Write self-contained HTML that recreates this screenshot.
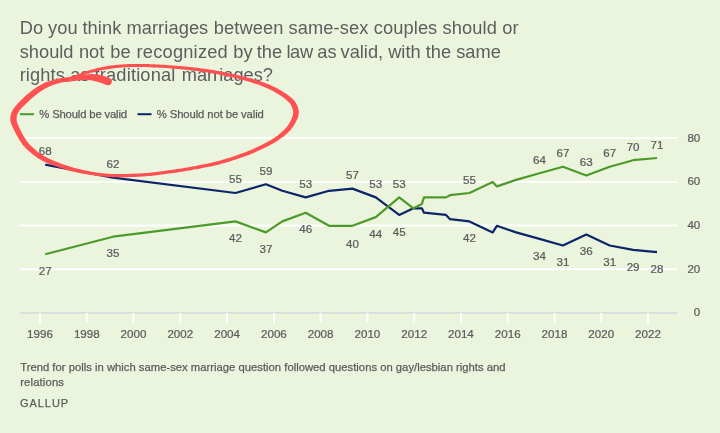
<!DOCTYPE html>
<html><head><meta charset="utf-8"><title>Gallup same-sex marriage trend</title><style>
html,body{margin:0;padding:0}
body{width:720px;height:433px;background:#ebf4dd;overflow:hidden;position:relative}
svg{position:absolute;left:0;top:0;will-change:transform;transform:translateZ(0)}
svg text{font-family:"Liberation Sans",sans-serif;font-size:11.6px;fill:#5c5c5c;text-anchor:middle;white-space:pre;stroke:#5c5c5c;stroke-width:0.25px}
svg text.t{font-size:18.25px;text-anchor:start;fill:#5e5e5e;stroke:none}
svg text.l{font-size:11.3px;text-anchor:start}
svg text.f{font-size:11.28px;text-anchor:start;letter-spacing:0.015px}
</style></head><body>
<svg width="720" height="433" viewBox="0 0 720 433">
<text class="t" y="34" style="letter-spacing:0.09px"><tspan x="19.8">Do</tspan> <tspan x="48.0">you</tspan> <tspan x="82.4">think</tspan> <tspan x="126.4">marriages</tspan> <tspan x="213.8">between</tspan> <tspan x="288.6">same-sex</tspan> <tspan x="373.8">couples</tspan> <tspan x="442.6">should</tspan> <tspan x="502.3">or</tspan></text>
<text class="t" y="57.5" style="letter-spacing:0.005px"><tspan x="19.7">should</tspan> <tspan x="78.95">not</tspan> <tspan x="110.35">be</tspan> <tspan x="136.5" style="letter-spacing:0.22px">recognized</tspan> <tspan x="233.3">by</tspan> <tspan x="256.7">the</tspan> <tspan x="286.4" style="letter-spacing:-0.35px">law</tspan> <tspan x="317.3">as</tspan> <tspan x="340.5">valid,</tspan> <tspan x="388.2">with</tspan> <tspan x="425.7">the</tspan> <tspan x="456.2">same</tspan></text>
<text class="t" y="80.7" style="letter-spacing:0.11px"><tspan x="19.7">rights</tspan> <tspan x="70.2">as</tspan> <tspan x="94.6" style="letter-spacing:0.16px">traditional</tspan> <tspan x="181.7" style="letter-spacing:0.0px">marriages?</tspan></text>
<text class="l" x="39.3" y="118" style="letter-spacing:-0.17px">% Should be valid</text>
<text class="l" x="156.8" y="118" style="letter-spacing:-0.11px">% Should not be valid</text>
<text class="f" x="20.2" y="371" style="letter-spacing:0.005px">Trend for polls in which same-sex marriage question followed questions on gay/lesbian rights and</text>
<text class="f" x="20.2" y="386" style="letter-spacing:0.15px">relations</text>
<text class="f" x="20" y="407" style="font-size:11px;letter-spacing:0.95px">GALLUP</text>
<g stroke="#ffffff" stroke-width="2"><line x1="20" y1="138.0" x2="677" y2="138.0"/>
<line x1="20" y1="181.9" x2="677" y2="181.9"/>
<line x1="20" y1="225.6" x2="677" y2="225.6"/>
<line x1="20" y1="269.3" x2="677" y2="269.3"/></g>
<line x1="20" y1="313" x2="677" y2="313" stroke="#dcdcdc" stroke-width="2"/>
<g stroke="#ffffff" stroke-width="2"><line x1="40.0" y1="313" x2="40.0" y2="323"/>
<line x1="86.8" y1="313" x2="86.8" y2="323"/>
<line x1="133.5" y1="313" x2="133.5" y2="323"/>
<line x1="180.3" y1="313" x2="180.3" y2="323"/>
<line x1="227.1" y1="313" x2="227.1" y2="323"/>
<line x1="273.9" y1="313" x2="273.9" y2="323"/>
<line x1="320.6" y1="313" x2="320.6" y2="323"/>
<line x1="367.4" y1="313" x2="367.4" y2="323"/>
<line x1="414.2" y1="313" x2="414.2" y2="323"/>
<line x1="460.9" y1="313" x2="460.9" y2="323"/>
<line x1="507.7" y1="313" x2="507.7" y2="323"/>
<line x1="554.5" y1="313" x2="554.5" y2="323"/>
<line x1="601.2" y1="313" x2="601.2" y2="323"/>
<line x1="648.0" y1="313" x2="648.0" y2="323"/></g>
<line x1="20" y1="114.2" x2="34" y2="114.2" stroke="#4d9a2b" stroke-width="2"/>
<line x1="137.5" y1="114.2" x2="151.5" y2="114.2" stroke="#0e2468" stroke-width="2"/>
<polyline points="45.2,164.6 113.0,177.7 235.5,193.0 265.9,184.2 282.3,190.8 305.7,197.4 329.1,190.8 352.4,188.6 375.8,197.4 399.2,214.9 413.4,208.3 421.9,208.3 424.0,212.7 446.0,214.9 450.1,219.2 469.4,221.4 492.7,232.4 496.9,225.8 516.1,232.4 539.5,238.9 562.9,245.5 586.3,234.6 609.7,245.5 633.1,249.9 657.0,252.1" fill="none" stroke="#0e2468" stroke-width="2.2" stroke-linejoin="round"/>
<polyline points="45.2,254.2 113.0,236.7 235.5,221.4 265.9,232.4 282.3,221.4 305.7,212.7 329.1,225.8 352.4,225.8 375.8,217.1 399.2,197.4 413.4,208.3 421.9,203.9 424.0,197.4 446.0,197.4 450.1,195.2 469.4,193.0 492.7,182.1 496.9,186.4 516.1,179.9 539.5,173.3 562.9,166.7 586.3,175.5 609.7,166.7 633.1,160.2 657.0,158.0" fill="none" stroke="#4d9a2b" stroke-width="2.2" stroke-linejoin="round"/>
<g transform="scale(1 0.955)"><text x="45.2" y="162.3">68</text>
<text x="45.2" y="288.0">27</text>
<text x="113.0" y="176.0">62</text>
<text x="113.0" y="269.0">35</text>
<text x="235.5" y="192.0">55</text>
<text x="235.5" y="253.0">42</text>
<text x="265.9" y="182.9">59</text>
<text x="265.9" y="264.5">37</text>
<text x="305.7" y="196.6">53</text>
<text x="305.7" y="243.8">46</text>
<text x="352.4" y="187.4">57</text>
<text x="352.4" y="259.4">40</text>
<text x="375.8" y="196.6">53</text>
<text x="375.8" y="249.5">44</text>
<text x="399.2" y="196.6">53</text>
<text x="399.2" y="247.2">45</text>
<text x="469.4" y="193.1">55</text>
<text x="469.4" y="253.0">42</text>
<text x="539.5" y="171.4">64</text>
<text x="539.5" y="272.1">34</text>
<text x="562.9" y="164.5">67</text>
<text x="562.9" y="278.2">31</text>
<text x="586.3" y="173.7">63</text>
<text x="586.3" y="266.8">36</text>
<text x="609.7" y="164.5">67</text>
<text x="609.7" y="278.2">31</text>
<text x="633.1" y="157.7">70</text>
<text x="633.1" y="283.5">29</text>
<text x="657.0" y="156.4">71</text>
<text x="657.0" y="285.8">28</text>
<text x="40.0" y="353.9">1996</text>
<text x="86.8" y="353.9">1998</text>
<text x="133.5" y="353.9">2000</text>
<text x="180.3" y="353.9">2002</text>
<text x="227.1" y="353.9">2004</text>
<text x="273.9" y="353.9">2006</text>
<text x="320.6" y="353.9">2008</text>
<text x="367.4" y="353.9">2010</text>
<text x="414.2" y="353.9">2012</text>
<text x="460.9" y="353.9">2014</text>
<text x="507.7" y="353.9">2016</text>
<text x="554.5" y="353.9">2018</text>
<text x="601.2" y="353.9">2020</text>
<text x="648.0" y="353.9">2022</text>
<text x="700.3" y="148.2" style="text-anchor:end">80</text>
<text x="700.3" y="194.1" style="text-anchor:end">60</text>
<text x="700.3" y="239.9" style="text-anchor:end">40</text>
<text x="700.3" y="285.7" style="text-anchor:end">20</text>
<text x="700.3" y="331.4" style="text-anchor:end">0</text></g>
<path d="M109.5,78.1 L109.0,77.9 L108.3,77.6 L107.5,77.3 L106.6,76.9 L105.6,76.5 L104.5,76.2 L103.4,75.8 L102.3,75.5 L101.2,75.2 L100.1,75.0 L99.0,74.8 L97.8,74.6 L96.5,74.4 L95.3,74.3 L94.0,74.2 L92.8,74.1 L91.6,74.1 L90.4,74.1 L89.2,74.2 L88.1,74.3 L86.9,74.4 L85.8,74.5 L84.7,74.6 L83.6,74.7 L82.5,74.8 L81.3,75.0 L80.1,75.1 L78.9,75.3 L77.7,75.4 L76.6,75.6 L75.6,75.7 L74.7,75.9 L73.9,76.0 L73.2,76.1 L72.6,76.3 L72.1,76.4 L71.6,76.5 L71.1,76.6 L70.4,76.7 L69.7,76.9 L68.7,77.0 L67.7,77.2 L66.5,77.3 L65.2,77.5 L63.8,77.6 L62.4,77.9 L61.0,78.1 L59.5,78.4 L58.0,78.7 L56.4,79.1 L54.8,79.5 L53.1,79.9 L51.4,80.4 L49.8,80.9 L48.2,81.4 L46.7,82.0 L45.3,82.5 L44.0,83.1 L42.7,83.7 L41.5,84.4 L40.4,85.0 L39.2,85.7 L38.1,86.4 L36.9,87.1 L35.7,87.9 L34.5,88.8 L33.2,89.7 L32.0,90.6 L30.8,91.5 L29.7,92.4 L28.7,93.2 L27.7,94.0 L26.8,94.7 L26.0,95.5 L25.2,96.1 L24.5,96.8 L23.8,97.4 L23.2,98.1 L22.6,98.7 L21.9,99.4 L21.2,100.0 L20.5,100.7 L19.8,101.4 L19.1,102.1 L18.4,102.8 L17.7,103.5 L17.1,104.3 L16.5,105.0 L15.9,105.7 L15.3,106.3 L14.8,107.0 L14.3,107.7 L13.8,108.4 L13.4,109.1 L12.9,109.8 L12.5,110.5 L12.1,111.3 L11.8,112.0 L11.5,112.8 L11.2,113.6 L10.9,114.4 L10.7,115.2 L10.5,116.0 L10.4,116.8 L10.3,117.6 L10.3,118.4 L10.3,119.2 L10.3,120.0 L10.4,120.8 L10.6,121.5 L10.7,122.3 L10.9,123.1 L11.2,123.8 L11.5,124.6 L11.8,125.4 L12.1,126.1 L12.4,126.8 L12.8,127.6 L13.2,128.3 L13.6,129.1 L14.0,130.0 L14.5,131.0 L15.0,132.0 L15.5,133.0 L16.1,134.1 L16.7,135.2 L17.3,136.2 L17.9,137.3 L18.5,138.3 L19.1,139.4 L19.8,140.5 L20.5,141.5 L21.2,142.6 L21.9,143.7 L22.7,144.7 L23.5,145.7 L24.3,146.6 L25.1,147.5 L25.9,148.4 L26.8,149.2 L27.6,149.9 L28.5,150.7 L29.3,151.5 L30.2,152.2 L31.1,153.0 L32.0,153.7 L32.9,154.5 L33.9,155.2 L34.9,156.0 L35.9,156.8 L36.9,157.5 L38.0,158.2 L39.2,158.9 L40.3,159.6 L41.5,160.2 L42.7,160.9 L43.9,161.5 L45.2,162.1 L46.4,162.7 L47.8,163.3 L49.1,163.9 L50.5,164.4 L51.9,165.0 L53.3,165.5 L54.8,166.0 L56.3,166.6 L57.8,167.1 L59.3,167.6 L60.8,168.1 L62.4,168.6 L63.9,169.1 L65.5,169.6 L67.2,170.0 L68.8,170.5 L70.4,170.9 L72.0,171.3 L73.6,171.7 L75.2,172.1 L76.7,172.5 L78.3,172.8 L79.9,173.1 L81.5,173.4 L83.1,173.7 L84.7,174.0 L86.3,174.3 L87.9,174.6 L89.6,174.8 L91.3,175.1 L92.9,175.3 L94.5,175.6 L95.9,175.8 L97.3,175.9 L98.4,176.1 L99.4,176.2 L100.3,176.3 L101.1,176.4 L102.0,176.5 L102.8,176.5 L103.8,176.6 L104.9,176.7 L106.1,176.8 L107.4,176.9 L108.8,177.0 L110.2,177.1 L111.7,177.1 L113.3,177.2 L114.9,177.3 L116.7,177.3 L118.5,177.3 L120.5,177.3 L122.6,177.3 L124.7,177.2 L126.9,177.2 L129.1,177.1 L131.3,177.0 L133.4,176.9 L135.5,176.9 L137.5,176.8 L139.6,176.7 L141.7,176.5 L143.8,176.4 L145.9,176.2 L148.0,176.1 L150.1,175.9 L152.3,175.7 L154.4,175.4 L156.5,175.2 L158.6,174.9 L160.7,174.6 L162.7,174.4 L164.8,174.1 L166.9,173.8 L169.0,173.5 L171.1,173.2 L173.2,172.9 L175.2,172.7 L177.3,172.4 L179.4,172.1 L181.5,171.8 L183.6,171.4 L185.7,171.1 L187.7,170.7 L189.8,170.4 L191.9,170.0 L194.0,169.6 L196.1,169.3 L198.2,168.9 L200.3,168.5 L202.4,168.1 L204.5,167.6 L206.6,167.2 L208.7,166.8 L210.8,166.4 L212.9,165.9 L215.0,165.4 L217.1,164.9 L219.2,164.4 L221.3,163.8 L223.4,163.2 L225.5,162.7 L227.6,162.0 L229.7,161.4 L231.8,160.8 L233.9,160.1 L235.9,159.4 L238.0,158.8 L240.2,158.1 L242.3,157.3 L244.4,156.6 L246.5,155.8 L248.6,155.0 L250.7,154.2 L252.9,153.3 L255.1,152.3 L257.3,151.3 L259.5,150.3 L261.7,149.3 L263.8,148.3 L265.8,147.3 L267.6,146.4 L269.4,145.5 L271.0,144.6 L272.5,143.8 L274.0,142.9 L275.4,142.1 L276.8,141.2 L278.2,140.3 L279.6,139.3 L281.0,138.3 L282.4,137.3 L283.8,136.2 L285.2,135.0 L286.5,133.9 L287.8,132.7 L289.0,131.6 L290.1,130.4 L291.1,129.2 L292.1,128.0 L293.0,126.8 L293.8,125.6 L294.5,124.5 L295.1,123.3 L295.7,122.2 L296.3,121.1 L296.8,120.1 L297.3,119.0 L297.7,118.0 L298.1,116.9 L298.3,115.8 L298.6,114.8 L298.7,113.7 L298.8,112.5 L298.8,111.4 L298.6,110.3 L298.4,109.2 L298.2,108.1 L297.8,107.1 L297.5,106.1 L297.1,105.2 L296.6,104.4 L296.2,103.5 L295.8,102.7 L295.2,102.0 L294.7,101.2 L294.1,100.5 L293.4,99.8 L292.7,99.0 L291.9,98.3 L291.1,97.5 L290.1,96.7 L289.1,95.9 L288.0,95.1 L286.9,94.3 L285.7,93.5 L284.5,92.7 L283.2,91.9 L281.9,91.1 L280.5,90.2 L279.0,89.4 L277.5,88.6 L276.0,87.8 L274.4,87.0 L272.8,86.2 L271.2,85.5 L269.6,84.8 L268.0,84.1 L266.3,83.5 L264.6,82.8 L262.9,82.2 L261.2,81.6 L259.4,81.0 L257.5,80.4 L255.5,79.8 L253.5,79.2 L251.3,78.6 L249.1,78.0 L247.0,77.4 L244.7,76.8 L242.6,76.2 L240.4,75.7 L238.3,75.2 L236.2,74.7 L234.1,74.3 L232.0,73.8 L229.9,73.4 L227.8,73.0 L225.7,72.5 L223.6,72.1 L221.6,71.7 L219.5,71.3 L217.5,70.9 L215.5,70.5 L213.4,70.1 L211.3,69.8 L209.2,69.4 L206.9,69.1 L204.6,68.7 L202.1,68.4 L199.6,68.1 L197.0,67.8 L194.5,67.5 L192.1,67.3 L189.8,67.0 L187.7,66.8 L185.8,66.6 L184.1,66.4 L182.5,66.3 L181.0,66.1 L179.5,66.0 L178.1,65.9 L176.6,65.8 L175.1,65.7 L173.6,65.5 L172.0,65.4 L170.4,65.3 L168.9,65.2 L167.3,65.1 L165.7,65.0 L164.2,64.8 L162.6,64.8 L161.0,64.7 L159.5,64.6 L157.9,64.5 L156.3,64.4 L154.8,64.3 L153.2,64.3 L151.6,64.2 L150.1,64.2 L148.5,64.1 L146.9,64.0 L145.4,64.0 L143.8,63.9 L142.2,63.9 L140.6,63.9 L139.1,63.9 L137.5,63.9 L135.9,63.9 L134.3,63.9 L132.8,63.9 L131.2,64.0 L129.6,64.0 L128.1,64.1 L126.5,64.2 L124.9,64.3 L123.3,64.4 L121.8,64.5 L120.2,64.6 L118.6,64.7 L117.0,64.8 L115.5,65.0 L113.9,65.2 L112.3,65.4 L110.7,65.6 L109.0,65.8 L107.2,66.1 L105.5,66.4 L103.9,66.7 L102.3,67.0 L100.9,67.2 L99.7,67.5 L98.7,67.7 L97.9,67.9 L97.3,68.0 L96.7,68.2 L96.2,68.3 L95.8,68.5 L95.3,68.7 L94.6,68.9 L93.8,69.1 L93.0,69.3 L92.1,69.6 L91.1,69.8 L90.2,70.1 L89.3,70.3 L88.4,70.6 L87.6,70.9 L86.9,71.1 L86.1,71.3 L85.5,71.6 L84.8,71.8 L84.1,72.0 L83.5,72.2 L82.8,72.5 L82.2,72.7 L81.5,72.9 L80.8,73.2 L80.2,73.4 L79.5,73.6 L78.8,73.9 L78.1,74.1 L77.5,74.4 L76.8,74.6 L76.1,74.9 L75.4,75.2 L74.7,75.5 L74.0,75.8 L73.4,76.0 L72.8,76.3 L72.3,76.5 L72.0,76.7 L72.0,76.9 L72.4,76.9 L73.0,76.8 L73.6,76.7 L74.3,76.5 L75.0,76.4 L75.8,76.2 L76.5,76.1 L77.2,76.0 L77.9,75.8 L78.6,75.7 L79.3,75.6 L80.0,75.5 L80.7,75.3 L81.4,75.2 L82.1,75.1 L82.8,74.9 L83.5,74.8 L84.2,74.6 L84.9,74.4 L85.5,74.3 L86.2,74.1 L86.9,73.9 L87.6,73.7 L88.4,73.5 L89.2,73.3 L90.1,73.1 L91.0,72.9 L91.9,72.6 L92.8,72.4 L93.7,72.2 L94.6,72.0 L95.4,71.7 L96.1,71.6 L96.7,71.4 L97.1,71.3 L97.6,71.1 L98.1,71.0 L98.6,70.9 L99.4,70.7 L100.3,70.5 L101.5,70.3 L102.9,70.0 L104.4,69.8 L106.0,69.5 L107.7,69.2 L109.4,68.9 L111.1,68.7 L112.7,68.4 L114.2,68.2 L115.8,68.1 L117.3,67.9 L118.9,67.8 L120.4,67.7 L122.0,67.5 L123.5,67.4 L125.1,67.3 L126.6,67.3 L128.2,67.2 L129.7,67.1 L131.3,67.1 L132.9,67.0 L134.4,67.0 L136.0,67.0 L137.5,66.9 L139.1,67.0 L140.6,67.0 L142.2,67.0 L143.7,67.0 L145.3,67.1 L146.8,67.1 L148.4,67.2 L149.9,67.2 L151.5,67.3 L153.1,67.4 L154.6,67.4 L156.2,67.5 L157.7,67.6 L159.3,67.7 L160.8,67.8 L162.4,67.8 L164.0,67.9 L165.5,68.0 L167.1,68.1 L168.6,68.3 L170.2,68.4 L171.8,68.5 L173.3,68.6 L174.9,68.7 L176.4,68.9 L177.8,69.0 L179.3,69.1 L180.7,69.3 L182.2,69.4 L183.7,69.6 L185.4,69.8 L187.3,70.0 L189.4,70.2 L191.7,70.5 L194.1,70.8 L196.7,71.0 L199.2,71.4 L201.7,71.7 L204.2,72.0 L206.5,72.3 L208.6,72.7 L210.7,73.0 L212.8,73.4 L214.8,73.8 L216.9,74.2 L218.9,74.6 L220.9,75.0 L223.0,75.5 L225.0,75.9 L227.1,76.3 L229.2,76.7 L231.3,77.2 L233.4,77.6 L235.4,78.1 L237.5,78.6 L239.6,79.1 L241.7,79.6 L243.8,80.2 L246.0,80.8 L248.2,81.4 L250.3,82.1 L252.4,82.7 L254.4,83.4 L256.3,84.0 L258.1,84.6 L259.9,85.3 L261.6,85.9 L263.2,86.6 L264.8,87.2 L266.4,87.9 L267.9,88.6 L269.4,89.3 L270.9,90.1 L272.5,90.8 L273.9,91.6 L275.4,92.5 L276.8,93.3 L278.2,94.1 L279.5,94.9 L280.8,95.7 L281.9,96.5 L283.0,97.3 L284.1,98.1 L285.1,98.9 L286.1,99.7 L286.9,100.5 L287.7,101.2 L288.5,101.9 L289.1,102.6 L289.7,103.2 L290.1,103.8 L290.5,104.3 L290.8,104.8 L291.2,105.4 L291.5,106.0 L291.8,106.6 L292.1,107.4 L292.3,108.1 L292.6,108.9 L292.8,109.6 L293.0,110.4 L293.1,111.1 L293.2,111.8 L293.2,112.5 L293.2,113.1 L293.1,113.9 L293.0,114.6 L292.8,115.4 L292.5,116.2 L292.2,117.0 L291.9,117.9 L291.5,118.9 L291.0,119.9 L290.6,120.9 L290.0,121.9 L289.4,123.0 L288.8,124.1 L288.1,125.1 L287.3,126.2 L286.5,127.2 L285.6,128.3 L284.5,129.4 L283.4,130.5 L282.2,131.6 L280.9,132.7 L279.6,133.8 L278.3,134.9 L277.0,135.9 L275.7,136.8 L274.5,137.7 L273.2,138.6 L271.9,139.4 L270.5,140.2 L269.0,141.1 L267.5,141.9 L265.8,142.8 L264.0,143.8 L262.0,144.8 L260.0,145.8 L257.8,146.8 L255.7,147.8 L253.5,148.8 L251.4,149.7 L249.3,150.6 L247.2,151.5 L245.2,152.3 L243.1,153.1 L241.0,153.8 L239.0,154.6 L236.9,155.3 L234.8,156.0 L232.7,156.7 L230.7,157.4 L228.6,158.0 L226.6,158.6 L224.5,159.2 L222.5,159.8 L220.4,160.4 L218.3,161.0 L216.3,161.5 L214.2,162.0 L212.1,162.5 L210.1,163.0 L208.0,163.4 L205.9,163.9 L203.8,164.3 L201.8,164.7 L199.7,165.1 L197.6,165.5 L195.5,165.9 L193.4,166.3 L191.3,166.7 L189.3,167.1 L187.2,167.5 L185.1,167.8 L183.0,168.2 L181.0,168.5 L178.9,168.8 L176.8,169.1 L174.8,169.5 L172.7,169.7 L170.6,170.0 L168.6,170.3 L166.5,170.6 L164.4,170.9 L162.3,171.2 L160.2,171.5 L158.1,171.8 L156.1,172.0 L154.0,172.3 L151.9,172.5 L149.9,172.7 L147.8,172.9 L145.7,173.0 L143.6,173.2 L141.6,173.3 L139.5,173.4 L137.4,173.5 L135.3,173.6 L133.2,173.7 L131.1,173.7 L129.0,173.8 L126.8,173.9 L124.6,174.0 L122.5,174.0 L120.5,174.1 L118.5,174.1 L116.7,174.1 L115.0,174.1 L113.4,174.0 L111.8,174.0 L110.4,173.9 L109.0,173.8 L107.6,173.7 L106.3,173.6 L105.1,173.5 L104.0,173.4 L103.1,173.3 L102.2,173.3 L101.5,173.2 L100.7,173.1 L99.8,173.0 L98.9,172.8 L97.7,172.7 L96.4,172.5 L95.0,172.2 L93.4,172.0 L91.8,171.7 L90.2,171.4 L88.5,171.1 L86.9,170.8 L85.3,170.5 L83.8,170.2 L82.3,169.8 L80.7,169.5 L79.2,169.1 L77.6,168.7 L76.1,168.3 L74.6,167.9 L73.0,167.5 L71.5,167.0 L69.9,166.5 L68.4,166.1 L66.8,165.5 L65.2,165.0 L63.7,164.5 L62.2,164.0 L60.7,163.4 L59.3,162.9 L57.8,162.3 L56.4,161.8 L55.0,161.2 L53.6,160.7 L52.3,160.1 L51.0,159.5 L49.7,158.9 L48.5,158.3 L47.3,157.7 L46.1,157.1 L45.0,156.5 L43.9,155.9 L42.8,155.3 L41.8,154.6 L40.8,154.0 L39.8,153.3 L38.8,152.7 L37.9,152.0 L37.0,151.3 L36.2,150.5 L35.3,149.8 L34.5,149.0 L33.6,148.3 L32.8,147.5 L32.0,146.8 L31.2,146.1 L30.5,145.4 L29.7,144.6 L29.0,143.9 L28.4,143.1 L27.7,142.3 L27.1,141.4 L26.4,140.5 L25.8,139.6 L25.1,138.6 L24.5,137.6 L23.9,136.5 L23.3,135.5 L22.7,134.5 L22.2,133.5 L21.6,132.5 L21.1,131.5 L20.6,130.5 L20.1,129.5 L19.7,128.5 L19.2,127.5 L18.8,126.7 L18.5,125.8 L18.1,125.1 L17.8,124.4 L17.6,123.7 L17.3,123.2 L17.1,122.6 L17.0,122.1 L16.9,121.5 L16.7,121.0 L16.7,120.5 L16.6,120.0 L16.6,119.5 L16.5,119.0 L16.6,118.5 L16.6,118.1 L16.6,117.6 L16.7,117.1 L16.8,116.6 L16.9,116.0 L17.0,115.5 L17.2,114.9 L17.4,114.4 L17.6,113.8 L17.9,113.3 L18.1,112.7 L18.4,112.2 L18.8,111.7 L19.1,111.1 L19.5,110.6 L20.0,110.0 L20.4,109.4 L20.9,108.8 L21.5,108.2 L22.0,107.6 L22.7,107.0 L23.3,106.3 L24.0,105.7 L24.7,105.0 L25.4,104.3 L26.1,103.6 L26.8,103.0 L27.4,102.4 L28.0,101.8 L28.7,101.2 L29.3,100.6 L30.0,100.0 L30.7,99.3 L31.5,98.6 L32.4,97.8 L33.5,97.0 L34.5,96.1 L35.6,95.2 L36.8,94.3 L37.9,93.5 L39.0,92.6 L40.1,91.9 L41.1,91.1 L42.2,90.5 L43.2,89.8 L44.3,89.2 L45.3,88.6 L46.4,88.0 L47.5,87.4 L48.7,86.8 L50.0,86.3 L51.4,85.7 L53.0,85.1 L54.5,84.6 L56.1,84.1 L57.6,83.6 L59.1,83.2 L60.5,82.8 L61.8,82.5 L63.1,82.3 L64.4,82.1 L65.7,82.0 L67.0,81.9 L68.2,81.8 L69.3,81.7 L70.3,81.5 L71.2,81.4 L72.0,81.3 L72.6,81.2 L73.1,81.1 L73.5,81.0 L74.0,80.9 L74.6,80.8 L75.3,80.7 L76.2,80.6 L77.2,80.5 L78.3,80.4 L79.4,80.3 L80.6,80.2 L81.7,80.2 L82.9,80.1 L84.0,80.1 L85.1,80.1 L86.1,80.1 L87.2,80.1 L88.2,80.1 L89.2,80.2 L90.2,80.2 L91.2,80.3 L92.2,80.5 L93.2,80.7 L94.2,80.9 L95.2,81.2 L96.3,81.5 L97.3,81.8 L98.4,82.1 L99.3,82.4 L100.3,82.7 L101.2,83.0 L102.1,83.3 L103.0,83.6 L103.9,84.0 L104.7,84.3 L105.5,84.6 L106.2,84.9 L106.7,85.1 L108.2,85.3 L109.6,85.0 L110.8,84.2 L111.6,83.0 L111.8,81.5 L111.5,80.1 L110.7,78.9Z" fill="#ff5052"/>
</svg>
</body></html>
